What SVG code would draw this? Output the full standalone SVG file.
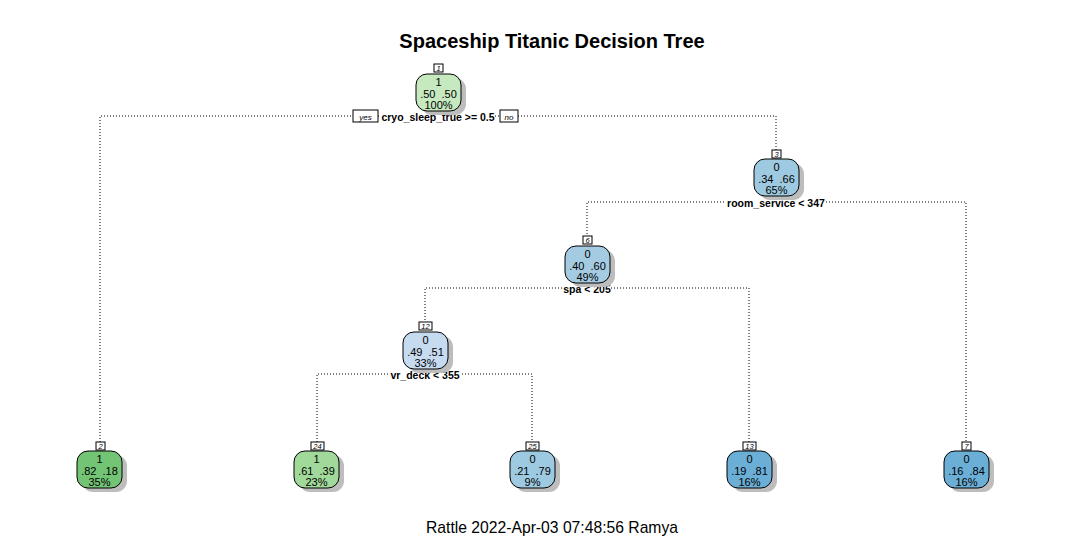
<svg xmlns="http://www.w3.org/2000/svg" width="1066" height="540" viewBox="0 0 1066 540">
<style>
.edge{stroke:#000;stroke-width:1;stroke-dasharray:1 2;fill:none}
.body{stroke:#000;stroke-width:1}
.shadow{fill:#bdbdbd}
.nb{fill:#fff;stroke:#000;stroke-width:1}
.nbt{font-family:"Liberation Sans",Arial,sans-serif;font-size:7.5px;font-style:italic;text-anchor:middle;fill:#000}
.t{font-family:"Liberation Sans",Arial,sans-serif;font-size:11px;text-anchor:middle;fill:#000;white-space:pre}
.lab{font-family:"Liberation Sans",Arial,sans-serif;font-size:10.5px;font-weight:bold;text-anchor:middle}
.yn{font-family:"Liberation Sans",Arial,sans-serif;font-size:8px;font-style:italic;text-anchor:middle}
</style>
<rect width="1066" height="540" fill="#fff"/>
<text x="552" y="48" font-family="Liberation Sans,Arial,sans-serif" font-size="20" font-weight="bold" text-anchor="middle">Spaceship Titanic Decision Tree</text>
<text x="552" y="533" font-family="Liberation Sans,Arial,sans-serif" font-size="15.7" text-anchor="middle">Rattle 2022-Apr-03 07:48:56 Ramya</text>
<g id="connectors">
<path class="edge" d="M100,442 V116 H353 M378,116 H381 M495,116 H500 M518,116 H776 V150"/>
<path class="edge" d="M587,237 V202 H726 M826,202 H966 V442"/>
<path class="edge" d="M425,323 V288 H564 M611,288 H749 V442"/>
<path class="edge" d="M317,442 V374 H388 M462,374 H532 V442"/>
<rect x="353" y="110" width="25" height="12" class="nb"/>
<text x="365.5" y="119.5" class="yn">yes</text>
<rect x="500" y="110" width="18" height="12" class="nb"/>
<text x="509" y="119.5" class="yn">no</text>
<text x="438" y="120.5" class="lab">cryo_sleep_true &gt;= 0.5</text>
<text x="776" y="206.5" class="lab">room_service &lt; 347</text>
<text x="587" y="292.5" class="lab">spa &lt; 205</text>
<text x="425" y="378.5" class="lab">vr_deck &lt; 355</text>
</g>
<g id="node1">
<rect x="421" y="78" width="45" height="37" rx="11" class="shadow"/>
<rect x="416" y="74" width="45" height="37" rx="11" fill="#c7e9c0" class="body"/>
<rect x="434" y="64" width="9" height="8" class="nb"/><text x="438.5" y="70.8" class="nbt">1</text>
<text x="438.5" y="86" class="t">1</text><text x="438.5" y="97.5" class="t">.50  .50</text><text x="438.5" y="109" class="t">100%</text>
</g>
<g id="node3">
<rect x="759" y="163" width="45" height="37" rx="11" class="shadow"/>
<rect x="754" y="159" width="45" height="37" rx="11" fill="#9ecae1" class="body"/>
<rect x="772" y="150" width="9" height="8" class="nb"/><text x="776.5" y="156.8" class="nbt">3</text>
<text x="776.5" y="171" class="t">0</text><text x="776.5" y="182.5" class="t">.34  .66</text><text x="776.5" y="194" class="t">65%</text>
</g>
<g id="node6">
<rect x="570" y="250" width="45" height="37" rx="11" class="shadow"/>
<rect x="565" y="246" width="45" height="37" rx="11" fill="#a4cbe2" class="body"/>
<rect x="583" y="236" width="9" height="8" class="nb"/><text x="587.5" y="242.8" class="nbt">6</text>
<text x="587.5" y="258" class="t">0</text><text x="587.5" y="269.5" class="t">.40  .60</text><text x="587.5" y="281" class="t">49%</text>
</g>
<g id="node12">
<rect x="408" y="336" width="45" height="37" rx="11" class="shadow"/>
<rect x="403" y="332" width="45" height="37" rx="11" fill="#c6dbef" class="body"/>
<rect x="419" y="322" width="13" height="8" class="nb"/><text x="425.5" y="328.8" class="nbt">12</text>
<text x="425.5" y="344" class="t">0</text><text x="425.5" y="355.5" class="t">.49  .51</text><text x="425.5" y="367" class="t">33%</text>
</g>
<g id="node2">
<rect x="82" y="455" width="45" height="37" rx="11" class="shadow"/>
<rect x="77" y="451" width="45" height="37" rx="11" fill="#74c476" class="body"/>
<rect x="96" y="442" width="9" height="8" class="nb"/><text x="100.5" y="448.8" class="nbt">2</text>
<text x="99.5" y="463" class="t">1</text><text x="99.5" y="474.5" class="t">.82  .18</text><text x="99.5" y="486" class="t">35%</text>
</g>
<g id="node24">
<rect x="299" y="455" width="45" height="37" rx="11" class="shadow"/>
<rect x="294" y="451" width="45" height="37" rx="11" fill="#a1d99b" class="body"/>
<rect x="311" y="442" width="13" height="8" class="nb"/><text x="317.5" y="448.8" class="nbt">24</text>
<text x="316.5" y="463" class="t">1</text><text x="316.5" y="474.5" class="t">.61  .39</text><text x="316.5" y="486" class="t">23%</text>
</g>
<g id="node25">
<rect x="515" y="455" width="45" height="37" rx="11" class="shadow"/>
<rect x="510" y="451" width="45" height="37" rx="11" fill="#9ecae1" class="body"/>
<rect x="526" y="442" width="13" height="8" class="nb"/><text x="532.5" y="448.8" class="nbt">25</text>
<text x="532.5" y="463" class="t">0</text><text x="532.5" y="474.5" class="t">.21  .79</text><text x="532.5" y="486" class="t">9%</text>
</g>
<g id="node13">
<rect x="732" y="455" width="45" height="37" rx="11" class="shadow"/>
<rect x="727" y="451" width="45" height="37" rx="11" fill="#6baed6" class="body"/>
<rect x="743" y="442" width="13" height="8" class="nb"/><text x="749.5" y="448.8" class="nbt">13</text>
<text x="749.5" y="463" class="t">0</text><text x="749.5" y="474.5" class="t">.19  .81</text><text x="749.5" y="486" class="t">16%</text>
</g>
<g id="node7">
<rect x="949" y="455" width="45" height="37" rx="11" class="shadow"/>
<rect x="944" y="451" width="45" height="37" rx="11" fill="#6baed6" class="body"/>
<rect x="962" y="442" width="9" height="8" class="nb"/><text x="966.5" y="448.8" class="nbt">7</text>
<text x="966.5" y="463" class="t">0</text><text x="966.5" y="474.5" class="t">.16  .84</text><text x="966.5" y="486" class="t">16%</text>
</g>
</svg>
